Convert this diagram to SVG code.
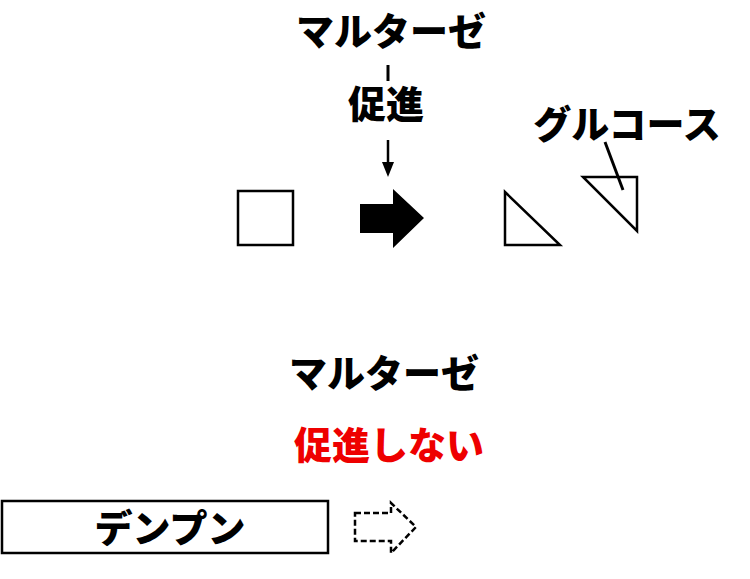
<svg xmlns="http://www.w3.org/2000/svg" width="750" height="579" viewBox="0 0 750 579">
<style>
.t{font-family:"Noto Sans CJK JP","Noto Sans CJK SC",sans-serif;font-weight:900;font-size:38px;text-anchor:middle;fill:#000}
.r{fill:#ee0000}
.o{fill:none;stroke:#000;stroke-width:2.5}
</style>
<rect width="750" height="579" fill="#fff"/>
<g id="maltase-top"><text class="t" x="391" y="45">マルターゼ</text></g>
<g id="promote-label"><text class="t" x="386" y="118">促進</text></g>
<g id="glucose-label"><text class="t" x="627" y="138">グルコース</text></g>
<g id="square"><rect class="o" x="238" y="191" width="55" height="54"/></g>
<g id="solid-arrow"><polygon points="360,204 393,204 393,189 424,218 393,248 393,233 360,233" fill="#000"/></g>
<g id="triangle1"><polygon class="o" points="505,192 505,245 560,245"/></g>
<g id="triangle2"><polygon class="o" points="583,177 637,177 637,231"/></g>
<g id="maltase-bottom"><text class="t" x="384" y="387">マルターゼ</text></g>
<g id="no-promote"><text class="t r" x="389" y="459">促進しない</text></g>
<g id="starch"><rect class="o" x="2" y="501" width="326" height="52"/><text class="t" x="170" y="542">デンプン</text></g>
<g id="dashed-arrow"><polygon points="355,513 391,513 391,503 416,527 391,553 391,541 355,541" fill="none" stroke="#000" stroke-width="2.5" stroke-dasharray="6,3"/></g>
<g id="connectors">
<line x1="388" y1="65" x2="388" y2="81" stroke="#000" stroke-width="3"/>
<line x1="388" y1="140" x2="388" y2="164" stroke="#000" stroke-width="2.5"/>
<polygon points="382,162 394,162 388,177" fill="#000"/>
<line x1="605" y1="142" x2="623" y2="190" stroke="#000" stroke-width="3"/>
</g>
</svg>
